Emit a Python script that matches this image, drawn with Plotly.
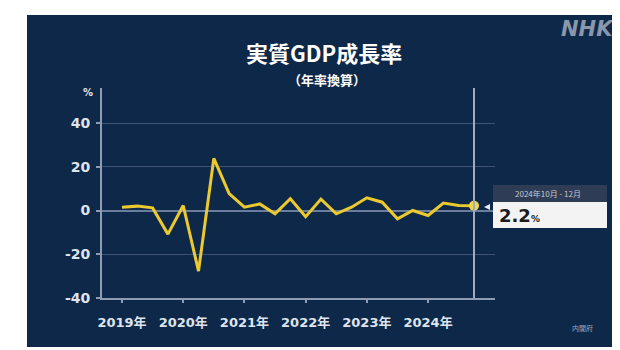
import plotly.graph_objects as go

# ---- data ----
quarters = list(range(24))  # 2019Q1 .. 2024Q4
gdp_growth = [1.5, 2.0, 1.2, -10.8, 2.3, -27.7, 23.8, 7.7,
              1.5, 3.0, -1.5, 5.4, -2.8, 5.2, -1.5, 1.5,
              5.8, 3.8, -3.8, 0.0, -2.3, 3.4, 2.3, 2.2]
year_tick_pos = [0, 4, 8, 12, 16, 20]
year_labels = ["2019年", "2020年", "2021年", "2022年", "2023年", "2024年"]
y_ticks = [-40, -20, 0, 20, 40]
y_tick_labels = ["-40", "-20", "0", "20", "40"]
latest_label = "2024年10月 - 12月"
latest_value = "2.2"

NAVY = "#0e284a"
LINE = "#ecc92e"
AXIS = "#8f9cb3"
TXT = "#dfe4ec"
FONT = "DejaVu Sans, Noto Sans CJK JP, sans-serif"
CJK = "Noto Sans CJK JP, sans-serif"

# screen-pixel geometry of plot area (page body has an 8px margin)
OFF = 8
L, R, T, B = 102, 495, 88, 298
W, H = R - L, B - T
def px(x):
    return (x - L) / W
def py(y):
    return (B - y) / H

fig = go.Figure()
fig.add_trace(go.Scatter(x=quarters, y=gdp_growth, mode="lines",
                         line=dict(color=LINE, width=3), hoverinfo="skip"))
fig.add_trace(go.Scatter(x=[quarters[-1]], y=[gdp_growth[-1]], mode="markers",
                         marker=dict(color="#f2d64a", size=10), hoverinfo="skip"))

shapes = [
    # navy panel
    dict(type="rect", xref="paper", yref="paper", x0=px(27), x1=px(640), y0=py(347), y1=py(15),
         fillcolor=NAVY, line=dict(width=0), layer="below"),
    # vertical marker line at latest quarter
    dict(type="line", xref="x", yref="paper", x0=quarters[-1], x1=quarters[-1], y0=0, y1=1,
         line=dict(color="#9fabc2", width=2)),
    # label header box
    dict(type="rect", xref="paper", yref="paper", x0=px(493), x1=px(607), y0=py(202), y1=py(185),
         fillcolor="#2f3c55", line=dict(width=0)),
    # value box
    dict(type="rect", xref="paper", yref="paper", x0=px(493), x1=px(607), y0=py(228), y1=py(202),
         fillcolor="#f3f3f3", line=dict(width=0)),
    # small pointer
    dict(type="path", xref="paper", yref="paper",
         path=f"M {px(484)} {py(207)} L {px(490)} {py(204)} L {px(490)} {py(210)} Z",
         fillcolor="#e8ecf2", line=dict(width=0)),
]

annotations = [
    dict(text="<b>実質GDP成長率</b>", x=px(324), y=py(52), xref="paper", yref="paper",
         showarrow=False, font=dict(family=CJK, size=22, color="#ffffff"),
         xanchor="center", yanchor="middle"),
    dict(text="<b>（年率換算）</b>", x=px(327), y=py(80), xref="paper", yref="paper",
         showarrow=False, font=dict(family=CJK, size=13, color="#ffffff"),
         xanchor="center", yanchor="middle"),
    dict(text="<b><i>NHK</i></b>", x=px(587), y=py(29), xref="paper", yref="paper",
         showarrow=False, font=dict(family="DejaVu Sans, sans-serif", size=21, color="#8a96aa"),
         xanchor="center", yanchor="middle"),
    dict(text="<b>%</b>", x=px(88), y=py(92), xref="paper", yref="paper",
         showarrow=False, font=dict(family=FONT, size=10, color=TXT),
         xanchor="center", yanchor="middle"),
    dict(text=latest_label, x=px(548), y=py(193), xref="paper", yref="paper",
         showarrow=False, font=dict(family=CJK, size=8, color="#c3c9d4"),
         xanchor="center", yanchor="middle"),
    dict(text=f"<b>{latest_value}</b><span style='font-size:9px'><b>%</b></span>",
         x=px(497), y=py(215), xref="paper", yref="paper",
         showarrow=False, font=dict(family=FONT, size=18, color="#1b1b1b"),
         xanchor="left", yanchor="middle"),
    dict(text="内閣府", x=px(582), y=py(328), xref="paper", yref="paper",
         showarrow=False, font=dict(family=CJK, size=7, color="#9aa5b8"),
         xanchor="center", yanchor="middle"),
]

fig.update_layout(
    width=620, height=350, autosize=False,
    margin=dict(l=L - OFF, r=620 - (R - OFF), t=T - OFF, b=350 - (B - OFF), pad=0),
    paper_bgcolor="#ffffff", plot_bgcolor=NAVY,
    showlegend=False, shapes=shapes, annotations=annotations,
    xaxis=dict(range=[(L - 122) / 15.304, (R - 122) / 15.304],
               tickvals=year_tick_pos, ticktext=year_labels,
               showgrid=False, zeroline=False,
               showline=True, linecolor=AXIS, linewidth=2,
               ticks="outside", ticklen=3, tickwidth=2, tickcolor=AXIS,
               ticklabelstandoff=8,
               tickfont=dict(family=FONT, size=13, color=TXT, weight="bold")),
    yaxis=dict(range=[-40, 56], tickvals=y_ticks, ticktext=y_tick_labels,
               showgrid=True, gridcolor="#3e5274", gridwidth=1,
               zeroline=True, zerolinecolor="#6b7d9c", zerolinewidth=1.5,
               showline=True, linecolor=AXIS, linewidth=2,
               ticks="outside", ticklen=4, tickwidth=1.5, tickcolor=AXIS,
               ticklabelstandoff=3,
               tickfont=dict(family=FONT, size=14, color=TXT, weight="bold")),
)

fig.write_html("out.html")
